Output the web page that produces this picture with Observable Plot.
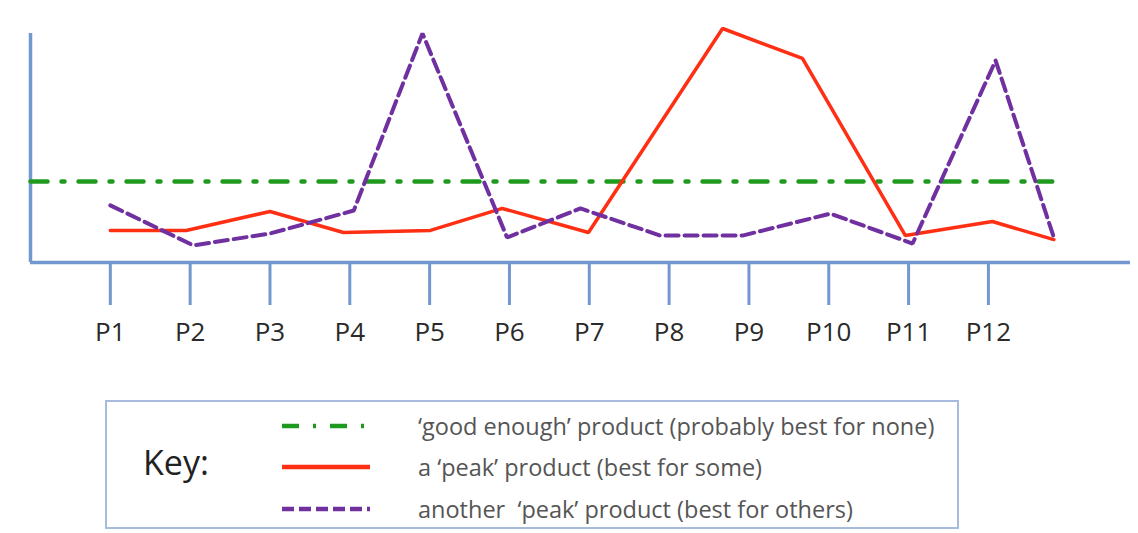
<!DOCTYPE html>
<html>
<head>
<meta charset="utf-8">
<script src="https://cdn.jsdelivr.net/npm/d3@7"></script>
<script src="https://cdn.jsdelivr.net/npm/@observablehq/plot@0.6"></script>
<style>
  html, body { margin: 0; padding: 0; background: #fff; }
  body { width: 1138px; height: 533px; overflow: hidden; font-family: "Open Sans", sans-serif; }
  #legend { position: relative; margin-left: 105px; width: 850px; height: 125px; border: 2px solid #a9bbdc; box-sizing: content-box; }
  .key { position: absolute; left: 36px; top: 40px; font-size: 34px; color: #222; line-height: 40px; }
  .row { position: absolute; left: 173px; height: 30px; display: flex; align-items: center; }
  .row svg { width: 92px; height: 10px; }
  .row span { margin-left: 46px; font-size: 23.5px; color: #555; white-space: pre; }
</style>
</head>
<body>
<div id="chart"></div>
<div id="legend"></div>
<script>
// Tick positions / labels
const ticks = [1,2,3,4,5,6,7,8,9,10,11,12];
const tickLabels = ["P1","P2","P3","P4","P5","P6","P7","P8","P9","P10","P11","P12"];

// "good enough" product (flat)
const goodX = [0, 12.8];
const goodY = [3.46, 3.46];

// a 'peak' product (red)
const peakX = [1.0, 1.95, 3.0, 3.92, 5.01, 5.91, 6.99, 8.67, 9.67, 10.96, 12.05, 12.82];
const peakY = [1.37, 1.37, 2.18, 1.28, 1.37, 2.31, 1.28, 10.0, 8.72, 1.15, 1.75, 0.98];

// another 'peak' product (purple)
const otherX = [1.0, 2.04, 3.0, 4.05, 4.91, 5.97, 6.89, 7.89, 8.92, 10.02, 11.05, 12.09, 12.82];
const otherY = [2.44, 0.73, 1.24, 2.22, 9.79, 1.07, 2.31, 1.15, 1.15, 2.09, 0.81, 8.63, 1.07];

const legendLabels = [
  "\u2018good enough\u2019 product (probably best for none)",
  "a \u2018peak\u2019 product (best for some)",
  "another  \u2018peak\u2019 product (best for others)"
];

const AXIS = "#7397cf";
const GREEN = "#1f9a1f";
const RED = "#ff2f14";
const PURPLE = "#7030a0";

const good = goodX.map((x, i) => ({x, y: goodY[i]}));
const peak = peakX.map((x, i) => ({x, y: peakY[i]}));
const other = otherX.map((x, i) => ({x, y: otherY[i]}));

const chart = Plot.plot({
  width: 1138,
  height: 400,
  marginLeft: 30,
  marginRight: 8,
  marginTop: 28,
  marginBottom: 138,
  style: { fontFamily: "Open Sans, sans-serif", background: "#fff" },
  x: { domain: [0, 13.78], axis: null },
  y: { domain: [0, 10], axis: null },
  marks: [
    Plot.axisX({
      ticks: ticks,
      tickFormat: (d) => tickLabels[ticks.indexOf(d)],
      tickSize: 43,
      tickPadding: 17,
      stroke: AXIS,
      strokeWidth: 3,
      fill: "#2a2a2a",
      fontSize: 26,
      label: null
    }),
    Plot.ruleY([0], { x1: 0, x2: 13.78, stroke: AXIS, strokeWidth: 3.5 }),
    Plot.ruleX([0], { y1: 0, y2: 9.79, stroke: AXIS, strokeWidth: 3.5 }),
    Plot.line(good, { x: "x", y: "y", stroke: GREEN, strokeWidth: 4.5, strokeDasharray: "17,14,3,14" }),
    Plot.line(peak, { x: "x", y: "y", stroke: RED, strokeWidth: 3.5, strokeLinejoin: "miter" }),
    Plot.line(other, { x: "x", y: "y", stroke: PURPLE, strokeWidth: 4, strokeDasharray: "13,6", strokeLinejoin: "miter" })
  ]
});
document.getElementById("chart").appendChild(chart);

// Legend
const legend = document.getElementById("legend");
const key = document.createElement("div");
key.className = "key";
key.textContent = "Key:";
legend.appendChild(key);
const styles = [
  { stroke: GREEN, dash: "17,14,3,14", w: 4.5 },
  { stroke: RED, dash: "none", w: 4.5 },
  { stroke: PURPLE, dash: "12,5", w: 4.5 }
];
const tops = [9, 50, 92];
legendLabels.forEach((lab, i) => {
  const row = document.createElement("div");
  row.className = "row";
  row.style.top = tops[i] + "px";
  const s = styles[i];
  row.innerHTML = `<svg viewBox="0 0 92 10"><line x1="2" y1="5" x2="90" y2="5" stroke="${s.stroke}" stroke-width="${s.w}" stroke-dasharray="${s.dash}"/></svg><span>${lab}</span>`;
  legend.appendChild(row);
});
</script>
</body>
</html>
